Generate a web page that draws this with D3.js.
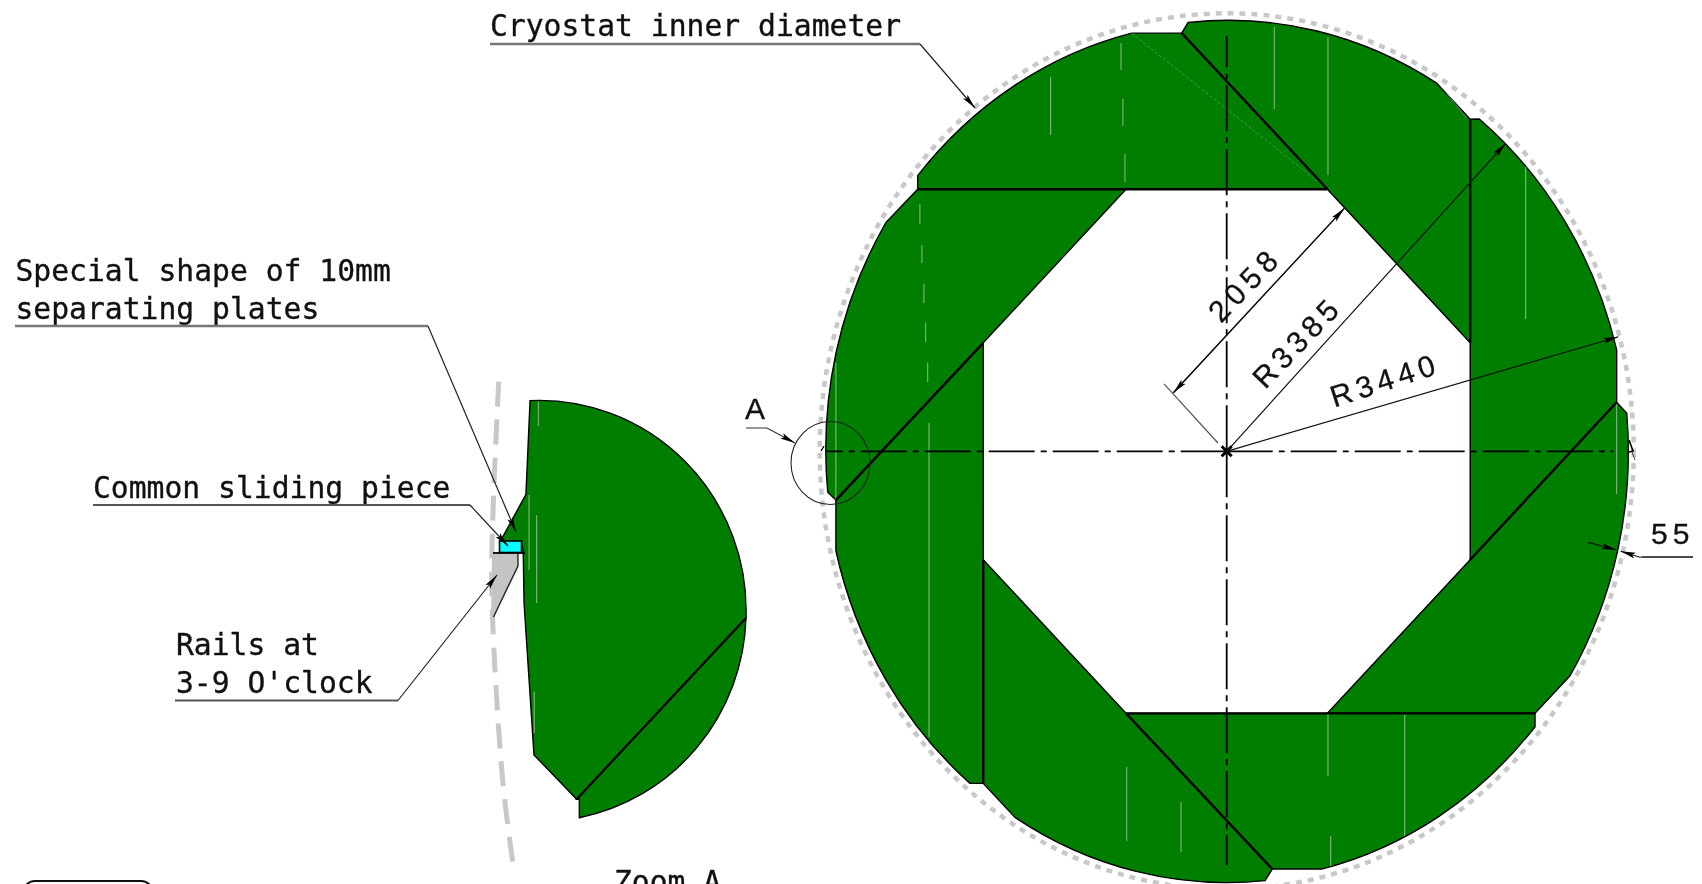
<!DOCTYPE html>
<html>
<head>
<meta charset="utf-8">
<script src="https://cdn.jsdelivr.net/npm/d3@7"></script>
<style>
  html, body { margin: 0; padding: 0; background: #fff; overflow: hidden; }
  svg { display: block; filter: blur(0.6px); }
  .mono { font-family: "DejaVu Sans Mono", monospace; font-size: 29.7px; fill: #111; stroke: #111; stroke-width: 0.35px; }
  .dim { font-family: "Liberation Sans", Arial, sans-serif; font-size: 30px; fill: #111; stroke: #111; stroke-width: 0.3px; }
</style>
</head>
<body>
<div id="chart"></div>
<script>
// all plate values in mm, measured from the cryostat axis. third item 1 = reach this corner along the arc
const plateRadius = 3385;
const cryostatRadius = 3440;

const plateTop = [[-2612,2058],[-2612,2165],[-803,3284,1],[-380,3284],[851,2058]];
const plateTopRight = [[-380,3284],[-326,3368],[1775,2891,1],[2058,2608],[2058,852],[851,2058]];
const plateRight = [[2058,2608],[2135,2610],[3296,796,1],[3296,385],[2058,-852],[2058,852]];
const plateBottomRight = [[3296,385],[3381,299],[2902,-1763,1],[2606,-2058],[851,-2058],[2058,-852]];
const plateBottom = [[2606,-2058],[2606,-2163],[803,-3281,1],[385,-3281],[-851,-2058],[851,-2058]];
const plateBottomLeft = [[385,-3281],[324,-3372],[-1790,-2875,1],[-2058,-2608],[-2058,-852],[-851,-2058]];
const plateLeft = [[-2058,-2608],[-2170,-2608],[-3303,-781,1],[-3303,-383],[-2058,852]];
const plateTopLeft = [[-3303,-383],[-3372,-322],[-2880,1797,1],[-2612,2058],[-851,2058],[-2058,852]];

const joints = [
  [[-2612,2058],[851,2058]], [[-380,3284],[851,2058]],
  [[2058,2608],[2058,852]], [[3296,385],[2058,-852]],
  [[2606,-2058],[-851,-2058]], [[385,-3281],[-851,-2058]],
  [[-2058,-2608],[-2058,-852]], [[-3303,-383],[-2058,852]]
];

// pale weld marks on the plates: x, y from, y to
const weldMarks = [
  [-1488,2940,2484],[-893,3206,2995],[-877,2767,2555],[-860,2335,2115],
  [-2593,1942,1785],[-2576,1620,1479],[-2559,1314,1165],[-2544,1008,858],[-2527,694,544],
  [-2516,222,-2244],[-3303,694,-382],[402,3332,2688],[856,3254,2170],[2527,2233,1039],
  [3296,379,-335],[-845,-2479,-3060],[-386,-2755,-3148],[856,-2063,-2550],
  [1505,-2063,-3021],[879,-3021,-3257]
];
const faintDiagonal = [[-803,3284],[851,2058]];
const chamferLine = [[1860,2811],[2028,2617]];

// zoom A, in units of the zoomed plate radius = 100
const zoomPlateMain = [[-4.8,99.7],[99.5,-3.8,1],[17.7,-90.1],[-2.9,-69],[-7.7,3.2],[-8.1,27],[-8.9,32.5],[-19.3,32.5],[-6.8,55],[-4.8,99.7]];
const zoomPlateLow = [[99.5,-3.8],[19,-98.9,1],[19,-90.1],[17.7,-90.1]];
const zoomMarks = [[-0.8,99.2,87.6],[-5.3,54.8,19],[-1.6,45.2,3.3],[-2.8,-38.9,-58.6]];
const zoomCryostat = [[498.7,381.7],[493.3,503.3],[491.7,583],[495,670],[503.3,786.7],[513.3,866.7]];
const railShape = [[492,554],[518,554],[518,566],[493.5,617],[491,617]];

const width = 1702, height = 884;
const svg = d3.select("#chart").append("svg").attr("width", width).attr("height", height);

const x = d3.scaleLinear().domain([0, plateRadius]).range([1226.7, 1627.2]);
const y = d3.scaleLinear().domain([0, plateRadius]).range([451.3, 20.3]);
const zx = d3.scaleLinear().domain([0, 100]).range([540, 747]);
const zy = d3.scaleLinear().domain([0, 100]).range([610, 400]);

const defs = svg.append("defs");
defs.append("marker").attr("id", "arrow")
  .attr("markerUnits", "userSpaceOnUse").attr("markerWidth", 18).attr("markerHeight", 12)
  .attr("refX", 15).attr("refY", 6).attr("orient", "auto")
  .append("path").attr("d", "M0,3 L15,6 L0,9 L3,6 Z").attr("fill", "#000");

// builds a plate outline, corners flagged 1 are joined with the elliptical arc
function platePath(pts, sx, sy, rx, ry, sweep) {
  let d = "";
  pts.forEach((p, i) => {
    if (i === 0) d += `M${sx(p[0])},${sy(p[1])}`;
    else if (p[2]) d += `A${rx},${ry} 0 0 ${sweep} ${sx(p[0])},${sy(p[1])}`;
    else d += `L${sx(p[0])},${sy(p[1])}`;
  });
  return d + "Z";
}

// cryostat, dotted
svg.append("ellipse")
  .attr("cx", x(0)).attr("cy", y(0))
  .attr("rx", x(cryostatRadius) - x(0)).attr("ry", y(0) - y(cryostatRadius))
  .attr("fill", "none").attr("stroke", "#c8c8c8").attr("stroke-width", 4.5)
  .attr("stroke-dasharray", "6 6");

const rx = x(plateRadius) - x(0), ry = y(0) - y(plateRadius);
const plates = [plateTop, plateTopRight, plateRight, plateBottomRight, plateBottom, plateBottomLeft, plateLeft, plateTopLeft];

svg.selectAll(".plate").data(plates).enter().append("path")
  .attr("class", "plate")
  .attr("d", d => platePath(d, x, y, rx, ry, 1))
  .attr("fill", "#007e00").attr("stroke", "#000").attr("stroke-width", 1.4)
  .attr("stroke-linejoin", "round");

svg.selectAll(".weld").data(weldMarks).enter().append("line")
  .attr("class", "weld")
  .attr("x1", d => x(d[0])).attr("x2", d => x(d[0]))
  .attr("y1", d => y(d[1])).attr("y2", d => y(d[2]))
  .attr("stroke", "#8fbc8f").attr("stroke-width", 1);

const mmLine = d3.line().x(d => x(d[0])).y(d => y(d[1]));
svg.append("path").attr("d", mmLine(faintDiagonal)).attr("fill", "none")
  .attr("stroke", "#5f9f5f").attr("stroke-width", 0.8).attr("stroke-dasharray", "3 2");
svg.append("path").attr("d", mmLine(chamferLine)).attr("fill", "none")
  .attr("stroke", "#777").attr("stroke-width", 1);

svg.selectAll(".joint").data(joints).enter().append("path")
  .attr("class", "joint")
  .attr("d", d => mmLine(d))
  .attr("fill", "none").attr("stroke", "#000").attr("stroke-width", 2.4);

// centre lines
const dashDot = "46 6 6 6";
[[[0,0],[3270,0]], [[0,0],[-3380,0]], [[0,0],[0,3262]], [[0,0],[0,-3250]]].forEach(d => {
  svg.append("path").attr("d", mmLine(d)).attr("fill", "none")
    .attr("stroke", "#000").attr("stroke-width", 1.8).attr("stroke-dasharray", dashDot);
});
svg.append("path")
  .attr("d", `M${x(0)-5},${y(0)-5}L${x(0)+5},${y(0)+5}M${x(0)-5},${y(0)+5}L${x(0)+5},${y(0)-5}`)
  .attr("stroke", "#000").attr("stroke-width", 3);

// dimension lines
function leader(pts, arrow, color, w) {
  const p = svg.append("path").attr("d", d3.line()(pts)).attr("fill", "none")
    .attr("stroke", color || "#111").attr("stroke-width", w || 1.2);
  if (arrow) p.attr("marker-end", "url(#arrow)");
  return p;
}
function mmPts(a) { return a.map(d => [x(d[0]), y(d[1])]); }

leader(mmPts([[-74,65],[-530,529]]), false, "#555");
leader(mmPts([[994,1908],[-451,460]]), true);
leader(mmPts([[-451,460],[994,1908]]), true);
leader(mmPts([[0,0],[2358,2419]]), true);
leader(mmPts([[0,0],[3310,900]]), true);
leader(mmPts([[3056,-715],[3296,-775]]), true);
leader([[1642,557],[x(3493),y(-832)],[x(3330),y(-785)]], true);
leader([[1642,557],[1693,557]], false, "#111", 1.4);

// small end arrows on the horizontal centre line
leader([[1629,440],[1633,451],[1629,452]], false, "#000", 1.6);
leader([[1632,452],[1635,460]], false, "#444", 1);
leader([[824,446],[821,451]], false, "#000", 1.4);

const dimLabels = [
  { text: "2058", x: 1245, y: 284, angle: -46, spacing: 6 },
  { text: "R3385", x: 1297, y: 342, angle: -46, spacing: 5 },
  { text: "R3440", x: 1385, y: 380, angle: -18, spacing: 5 }
];
svg.selectAll(".dimlabel").data(dimLabels).enter().append("text")
  .attr("class", "dim dimlabel")
  .attr("text-anchor", "middle").attr("dominant-baseline", "central")
  .attr("letter-spacing", d => d.spacing)
  .attr("transform", d => `translate(${d.x},${d.y}) rotate(${d.angle})`)
  .text(d => d.text);
svg.append("text").attr("class", "dim").attr("x", 1651).attr("y", 544).attr("letter-spacing", 5).text("55");

// label A and its circle
svg.append("text").attr("class", "dim").attr("x", 745).attr("y", 419).text("A");
leader([[746,428],[767,428],[795,443]], true, "#333");
svg.append("ellipse").attr("cx", 830.5).attr("cy", 463).attr("rx", 39.5).attr("ry", 41.5)
  .attr("fill", "none").attr("stroke", "#222").attr("stroke-width", 1.1);

// zoom A: cryostat wall, rail, plate
svg.append("path")
  .attr("d", d3.line().curve(d3.curveCatmullRom)(zoomCryostat))
  .attr("fill", "none").attr("stroke", "#c8c8c8").attr("stroke-width", 5)
  .attr("stroke-dasharray", "25 13");

svg.append("path").attr("d", d3.line()(railShape) + "Z").attr("fill", "#c4c4c4");
leader([[518,554],[518,566],[493.5,617]], false, "#222", 1.4);

const zrx = zx(100) - zx(0), zry = zy(0) - zy(100);
svg.append("path").attr("d", platePath(zoomPlateLow, zx, zy, zrx, zry, 1))
  .attr("fill", "#007e00").attr("stroke", "#000").attr("stroke-width", 1.4);
svg.append("path").attr("d", platePath(zoomPlateMain, zx, zy, zrx, zry, 1))
  .attr("fill", "#007e00").attr("stroke", "#000").attr("stroke-width", 1.4);
svg.append("path").attr("d", d3.line().x(d => zx(d[0])).y(d => zy(d[1]))([[17.7,-90.1],[99.5,-3.8]]))
  .attr("stroke", "#000").attr("stroke-width", 2.2).attr("fill", "none");

svg.selectAll(".zweld").data(zoomMarks).enter().append("line")
  .attr("class", "zweld")
  .attr("x1", d => zx(d[0])).attr("x2", d => zx(d[0]))
  .attr("y1", d => zy(d[1])).attr("y2", d => zy(d[2]))
  .attr("stroke", "#8fbc8f").attr("stroke-width", 1);

svg.append("rect").attr("x", 499.5).attr("y", 541).attr("width", 22).attr("height", 11.5)
  .attr("fill", "#00ffff").attr("stroke", "#000").attr("stroke-width", 1.6);
leader([[493,553],[525,553]], false, "#000", 1.8);

// notes
const notes = [
  { text: "Cryostat inner diameter", x: 490, y: 36 },
  { text: "Special shape of 10mm", x: 15.5, y: 281 },
  { text: "separating plates", x: 15.5, y: 319 },
  { text: "Common sliding piece", x: 93, y: 498 },
  { text: "Rails at", x: 176, y: 655 },
  { text: "3-9 O'clock", x: 176, y: 693 },
  { text: "Zoom A", x: 614, y: 892 }
];
svg.selectAll(".note").data(notes).enter().append("text")
  .attr("class", "mono note").attr("x", d => d.x).attr("y", d => d.y).text(d => d.text);

leader([[490,44],[920,44]], false, "#777", 2.4);
leader([[920,44],[975,108]], true, "#222");
leader([[15,326],[428,326]], false, "#777", 2.4);
leader([[428,326],[516,532]], true, "#222");
leader([[93,505],[470,505]], false, "#555", 2);
leader([[470,505],[508,546]], true, "#222");
leader([[175,700.5],[398,700.5]], false, "#555", 2);
leader([[398,700.5],[497,575]], true, "#222");

// frame cut by the picture edge, bottom left
svg.append("rect").attr("x", 23).attr("y", 881).attr("width", 130).attr("height", 40).attr("rx", 12)
  .attr("fill", "none").attr("stroke", "#111").attr("stroke-width", 2);
</script>
</body>
</html>
